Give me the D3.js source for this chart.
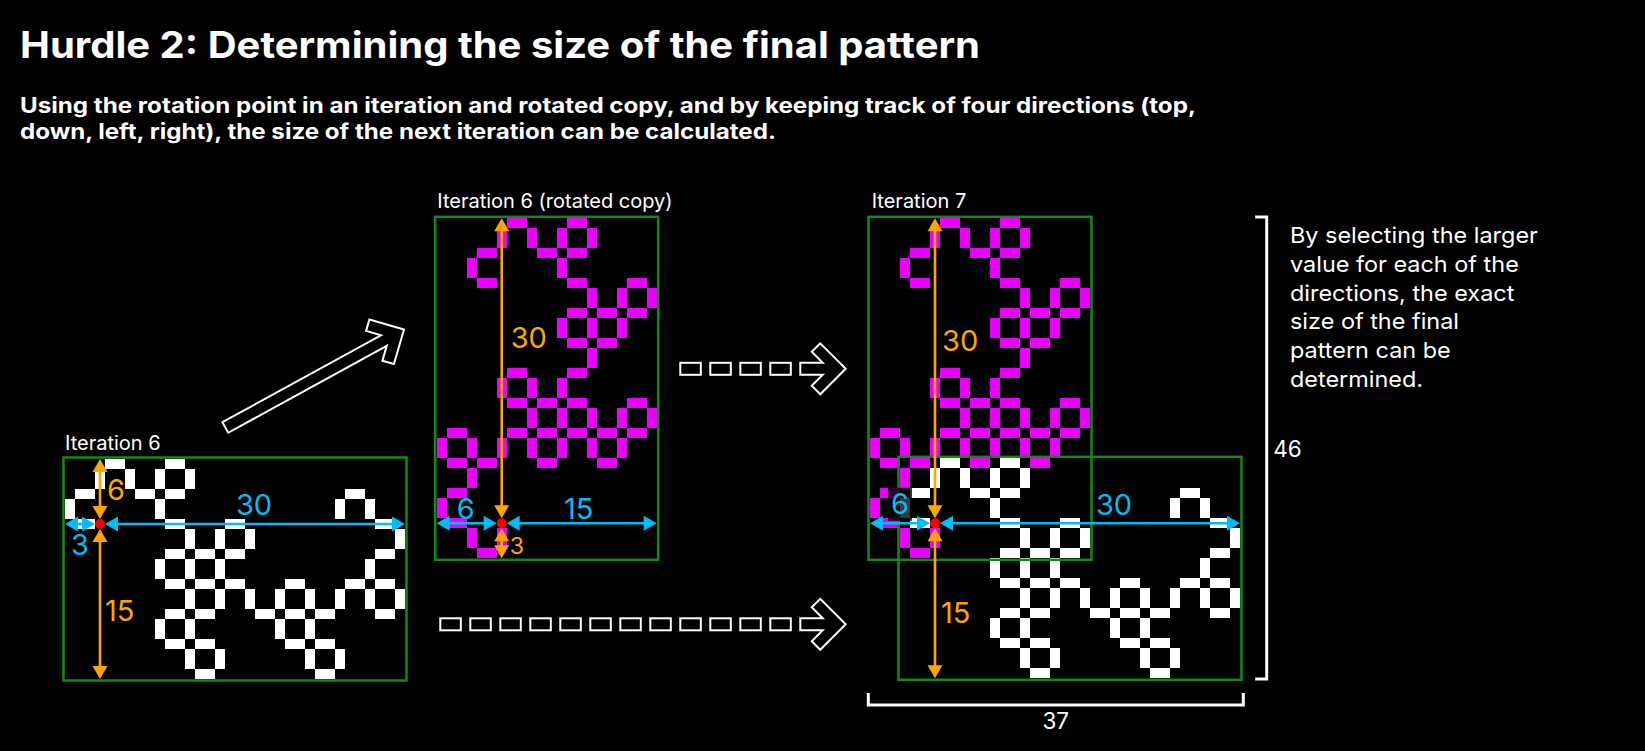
<!doctype html>
<html>
<head>
<meta charset="utf-8">
<script type='text/javascript' src='https://d3js.org/d3.v7.min.js'></script>
<style>
body{margin:0;background:#000;}
svg text{font-family:Inter,"Noto Sans",sans-serif;}
</style>
</head>
<body>
<script>
var width = 1645, height = 751;

// filled columns in each row of iteration 6 (34 columns x 22 rows)
var iteration6Rows = [
 [4,5,10,11],
 [3,6,9,12],
 [3,6,9,12],
 [1,2,7,8,10,11,28,29],
 [0,9,27,30],
 [0,9,27,30],
 [1,2,10,11,16,17,31,32],
 [12,15,18,33],
 [12,15,18,33],
 [10,11,13,14,16,17,31,32],
 [9,12,15,30],
 [9,12,15,30],
 [10,11,13,14,16,17,22,23,28,29,31,32],
 [12,15,18,21,24,27,30,33],
 [12,15,18,21,24,27,30,33],
 [10,11,13,14,19,20,22,23,25,26,31,32],
 [9,12,21,24],
 [9,12,21,24],
 [10,11,13,14,22,23,25,26],
 [12,15,24,27],
 [12,15,24,27],
 [13,14,25,26]
];
var iteration6Cols = 34;
var pivot6 = [3, 6];          // rotation point cell in iteration 6

// distances from the rotation point: left, right, up, down
var iter6Dist = [3, 30, 6, 15];
var rotatedDist = [6, 15, 30, 3];
var iter7Dist = [6, 30, 30, 15];
var finalSize = [37, 46];     // width, height of iteration 7

var titleText = 'Hurdle 2: Determining the size of the final pattern';
var subtitleLines = [
 'Using the rotation point in an iteration and rotated copy, and by keeping track of four directions (top,',
 'down, left, right), the size of the next iteration can be calculated.'
];
var noteLines = ['By selecting the larger', 'value for each of the', 'directions, the exact',
 'size of the final', 'pattern can be', 'determined.'];

var WHITE = '#ffffff', MAGENTA = '#ea00ff', GREEN = '#128a12', ORANGE = '#ffa500', BLUE = '#00bdf7', RED = '#ff0000';

var svg = d3.select('body').append('svg').attr('width', width).attr('height', height)
 .style('background', '#000');

// cells of iteration 6, optionally turned a quarter turn around the grid (rotated copy)
function cellsOf(rows, rotate) {
 var out = [];
 rows.forEach(function(cols, r) {
  cols.forEach(function(c) {
   if (rotate) out.push({c: r, r: iteration6Cols - 1 - c});
   else out.push({c: c, r: r});
  });
 });
 return out;
}
var white6 = cellsOf(iteration6Rows, false);
var magenta6 = cellsOf(iteration6Rows, true);

// pivot in rotated copy: (row, 33 - col)
var pivotRot = [pivot6[1], iteration6Cols - 1 - pivot6[0]];

var panels = [
 {title: 'Iteration 6', tx: 65, ty: 450, x0: 65, y0: 459, cw: 10, ch: 10, cols: 34, rows: 22,
  layers: [{cells: white6, color: WHITE, dc: 0, dr: 0}],
  boxes: [[0, 0, 34, 22]], pivot: pivot6, dist: iter6Dist,
  // label offsets from the red dot: dx, dy(center), anchor, size, bg
  lab: [[-20, 21, 'middle', 29], [154, -19, 'middle', 29], [7, -34.5, 'start', 29], [5, 87, 'start', 29]]},
 {title: 'Iteration 6 (rotated copy)', tx: 437.3, ty: 208.3, x0: 436.7, y0: 218.3, cw: 10, ch: 10, cols: 22, rows: 34,
  layers: [{cells: magenta6, color: MAGENTA, dc: 0, dr: 0}],
  boxes: [[0, 0, 22, 34]], pivot: pivotRot, dist: rotatedDist,
  lab: [[-36, -14.5, 'middle', 29], [77, -15, 'middle', 29], [9, -186, 'start', 29], [8, 22, 'start', 23]]},
 {title: 'Iteration 7', tx: 871.7, ty: 208.3, x0: 870, y0: 218.3, cw: 10, ch: 10, cols: 37, rows: 46,
  layers: [{cells: magenta6, color: MAGENTA, dc: 0, dr: 0},
           {cells: white6, color: WHITE, dc: pivotRot[0] - pivot6[0], dr: pivotRot[1] - pivot6[1]}],
  boxes: [[0, 0, 22, 34], [pivotRot[0] - pivot6[0], pivotRot[1] - pivot6[1], 34, 22]],
  pivot: pivotRot, dist: iter7Dist,
  lab: [[-35, -19.9, 'middle', 29, true], [179, -19, 'middle', 29], [7, -182.6, 'start', 29], [6, 89, 'start', 29]]}
];

function dimArrow(g, x1, y1, x2, y2, color) {
 var dx = x2 - x1, dy = y2 - y1, len = Math.hypot(dx, dy), ux = dx / len, uy = dy / len;
 var hl = Math.min(13, len / 2), hw = 7.5;
 g.append('line')
  .attr('x1', x1 + ux * hl * 0.5).attr('y1', y1 + uy * hl * 0.5)
  .attr('x2', x2 - ux * hl * 0.5).attr('y2', y2 - uy * hl * 0.5)
  .attr('stroke', color).attr('stroke-width', 2.6);
 [[x1, y1, -1], [x2, y2, 1]].forEach(function(e) {
  var ex = ux * e[2], ey = uy * e[2];
  var bx = e[0] - ex * hl, by = e[1] - ey * hl;
  g.append('path')
   .attr('d', 'M' + e[0] + ',' + e[1] + 'L' + (bx - ey * hw) + ',' + (by + ex * hw) +
     'L' + (bx + ey * hw) + ',' + (by - ex * hw) + 'Z')
   .attr('fill', color);
 });
}

panels.forEach(function(p) {
 var x = d3.scaleLinear().domain([0, p.cols]).range([p.x0, p.x0 + p.cols * p.cw]);
 var y = d3.scaleLinear().domain([0, p.rows]).range([p.y0, p.y0 + p.rows * p.ch]);
 var g = svg.append('g');

 g.append('text').attr('x', p.tx).attr('y', p.ty).attr('fill', WHITE)
  .attr('font-size', 20).text(p.title);

 p.layers.forEach(function(l) {
  g.append('g').attr('shape-rendering', 'crispEdges')
   .selectAll('rect').data(l.cells).join('rect')
   .attr('x', function(d) { return x(d.c + l.dc); })
   .attr('y', function(d) { return y(d.r + l.dr); })
   .attr('width', x(1) - x(0))
   .attr('height', y(1) - y(0))
   .attr('fill', l.color);
 });

 g.selectAll('rect.box').data(p.boxes).join('rect').attr('class', 'box')
  .attr('x', function(b) { return x(b[0]) - 1.5; })
  .attr('y', function(b) { return y(b[1]) - 1.5; })
  .attr('width', function(b) { return x(b[2]) - x(0) + 3; })
  .attr('height', function(b) { return y(b[3]) - y(0) + 3; })
  .attr('fill', 'none').attr('stroke', GREEN).attr('stroke-width', 2.5);

 var pc = p.pivot[0], pr = p.pivot[1], d = p.dist;
 var cx = x(pc + 0.5), cy = y(pr + 0.5), gap = 5;
 var ends = [
  [x(pc - d[0]), cy, cx - gap, cy, BLUE],
  [cx + gap, cy, x(pc + 1 + d[1]), cy, BLUE],
  [cx, y(pr - d[2]), cx, cy - gap, ORANGE],
  [cx, cy + gap, cx, y(pr + 1 + d[3]), ORANGE]
 ];
 ends.forEach(function(e, i) {
  var lab = p.lab[i];
  var t = g.append('text')
   .attr('x', cx + lab[0]).attr('y', cy + lab[1] + lab[3] * 0.36)
   .attr('text-anchor', lab[2]).attr('font-size', lab[3]).attr('fill', e[4])
   .text(d[i]);
  if (lab[4]) {
   var bb = t.node().getBBox();
   g.insert('rect', function() { return t.node(); })
    .attr('x', bb.x - 3).attr('y', bb.y + 2).attr('width', bb.width + 6).attr('height', bb.height - 2)
    .attr('fill', '#000').attr('opacity', 0.78);
  }
 });
 ends.forEach(function(e) { dimArrow(g, e[0], e[1], e[2], e[3], e[4]); });
 g.append('circle').attr('cx', cx).attr('cy', cy).attr('r', 5).attr('fill', RED);

 if (p.title === 'Iteration 7') {
  // size brackets around the whole iteration
  var left = x(0) - 1.7, right = x(finalSize[0]) + 3.3, top = y(0) - 1.4, bot = y(finalSize[1]) + 0.7;
  var bx = right + 23.4, byb = bot + 26;
  svg.append('path')
   .attr('d', 'M' + (bx - 11.5) + ',' + top + 'H' + bx + 'V' + bot + 'H' + (bx - 11.5))
   .attr('fill', 'none').attr('stroke', WHITE).attr('stroke-width', 3);
  svg.append('path')
   .attr('d', 'M' + left + ',' + (byb - 12) + 'V' + byb + 'H' + right + 'V' + (byb - 12))
   .attr('fill', 'none').attr('stroke', WHITE).attr('stroke-width', 3);
  svg.append('text').attr('x', bx + 6.5).attr('y', (top + bot) / 2 + 8.7)
   .attr('font-size', 22.5).attr('fill', WHITE).text(finalSize[1]);
  svg.append('text').attr('x', (left + right) / 2).attr('y', byb + 24)
   .attr('text-anchor', 'middle').attr('font-size', 22.5).attr('fill', WHITE).text(finalSize[0]);
 }
});

// outlined block arrow, tip at origin pointing along +x
function blockArrow(L, t, a) {
 var s = a / Math.SQRT2, q = t / Math.SQRT2, ht = t / 2;
 var B = [-s - q, -s + q];
 var k = -ht - B[1];
 var pts = [[0, 0], [-s, -s], B, [B[0] + k, -ht], [-L, -ht], [-L, ht], [B[0] + k, ht], [B[0], -B[1]], [-s, s]];
 return 'M' + pts.map(function(p) { return p.join(','); }).join('L') + 'Z';
}
function drawBlockArrow(x1, y1, x2, y2) {
 var L = Math.hypot(x2 - x1, y2 - y1), ang = Math.atan2(y2 - y1, x2 - x1) * 180 / Math.PI;
 svg.append('path').attr('d', blockArrow(L, 12, 36))
  .attr('transform', 'translate(' + x2 + ',' + y2 + ') rotate(' + ang + ')')
  .attr('fill', 'none').attr('stroke', WHITE).attr('stroke-width', 2).attr('stroke-linejoin', 'miter');
}
function dashedArrow(xStart, yc, n, xTip) {
 var pitch = 30;
 svg.append('g').selectAll('rect').data(d3.range(n)).join('rect')
  .attr('x', function(i) { return xStart + 1 + i * pitch; })
  .attr('y', yc - 6)
  .attr('width', 20.5).attr('height', 12)
  .attr('fill', 'none').attr('stroke', WHITE).attr('stroke-width', 2);
 drawBlockArrow(xStart + 1 + n * pitch, yc, xTip, yc);
}
drawBlockArrow(225.3, 427.5, 404, 329.5);
dashedArrow(679.3, 368.8, 4, 845.7);
dashedArrow(439.3, 624.3, 12, 845.7);

// the reference face runs a little wider than Inter: stretch lines to the measured widths
function fitWidth(sel, target) {
 sel.each(function(d, i) {
  var w = typeof target === 'function' ? target(this, i) : target;
  d3.select(this).attr('textLength', w).attr('lengthAdjust', 'spacingAndGlyphs');
 });
}

// title, subtitle, note
var title = svg.append('text').attr('x', 20).attr('y', 57.5).attr('fill', WHITE)
 .attr('font-size', 36.5).attr('font-weight', 700).text(titleText);
fitWidth(title, 960);
var subWidths = [1176, 756];
var subs = svg.selectAll('text.sub').data(subtitleLines).join('text').attr('class', 'sub')
 .attr('x', 20).attr('y', function(d, i) { return 112.5 + i * 26.5; })
 .attr('fill', WHITE).attr('font-size', 21).attr('font-weight', 700).text(function(d) { return d; });
fitWidth(subs, function(node, i) { return subWidths[i]; });
var notes = svg.selectAll('text.note').data(noteLines).join('text').attr('class', 'note')
 .attr('x', 1290).attr('y', function(d, i) { return 242.7 + i * 28.9; })
 .attr('fill', WHITE).attr('font-size', 22).text(function(d) { return d; });
fitWidth(notes, function(node) { return node.getComputedTextLength() * 1.065; });
</script>
</body>
</html>
